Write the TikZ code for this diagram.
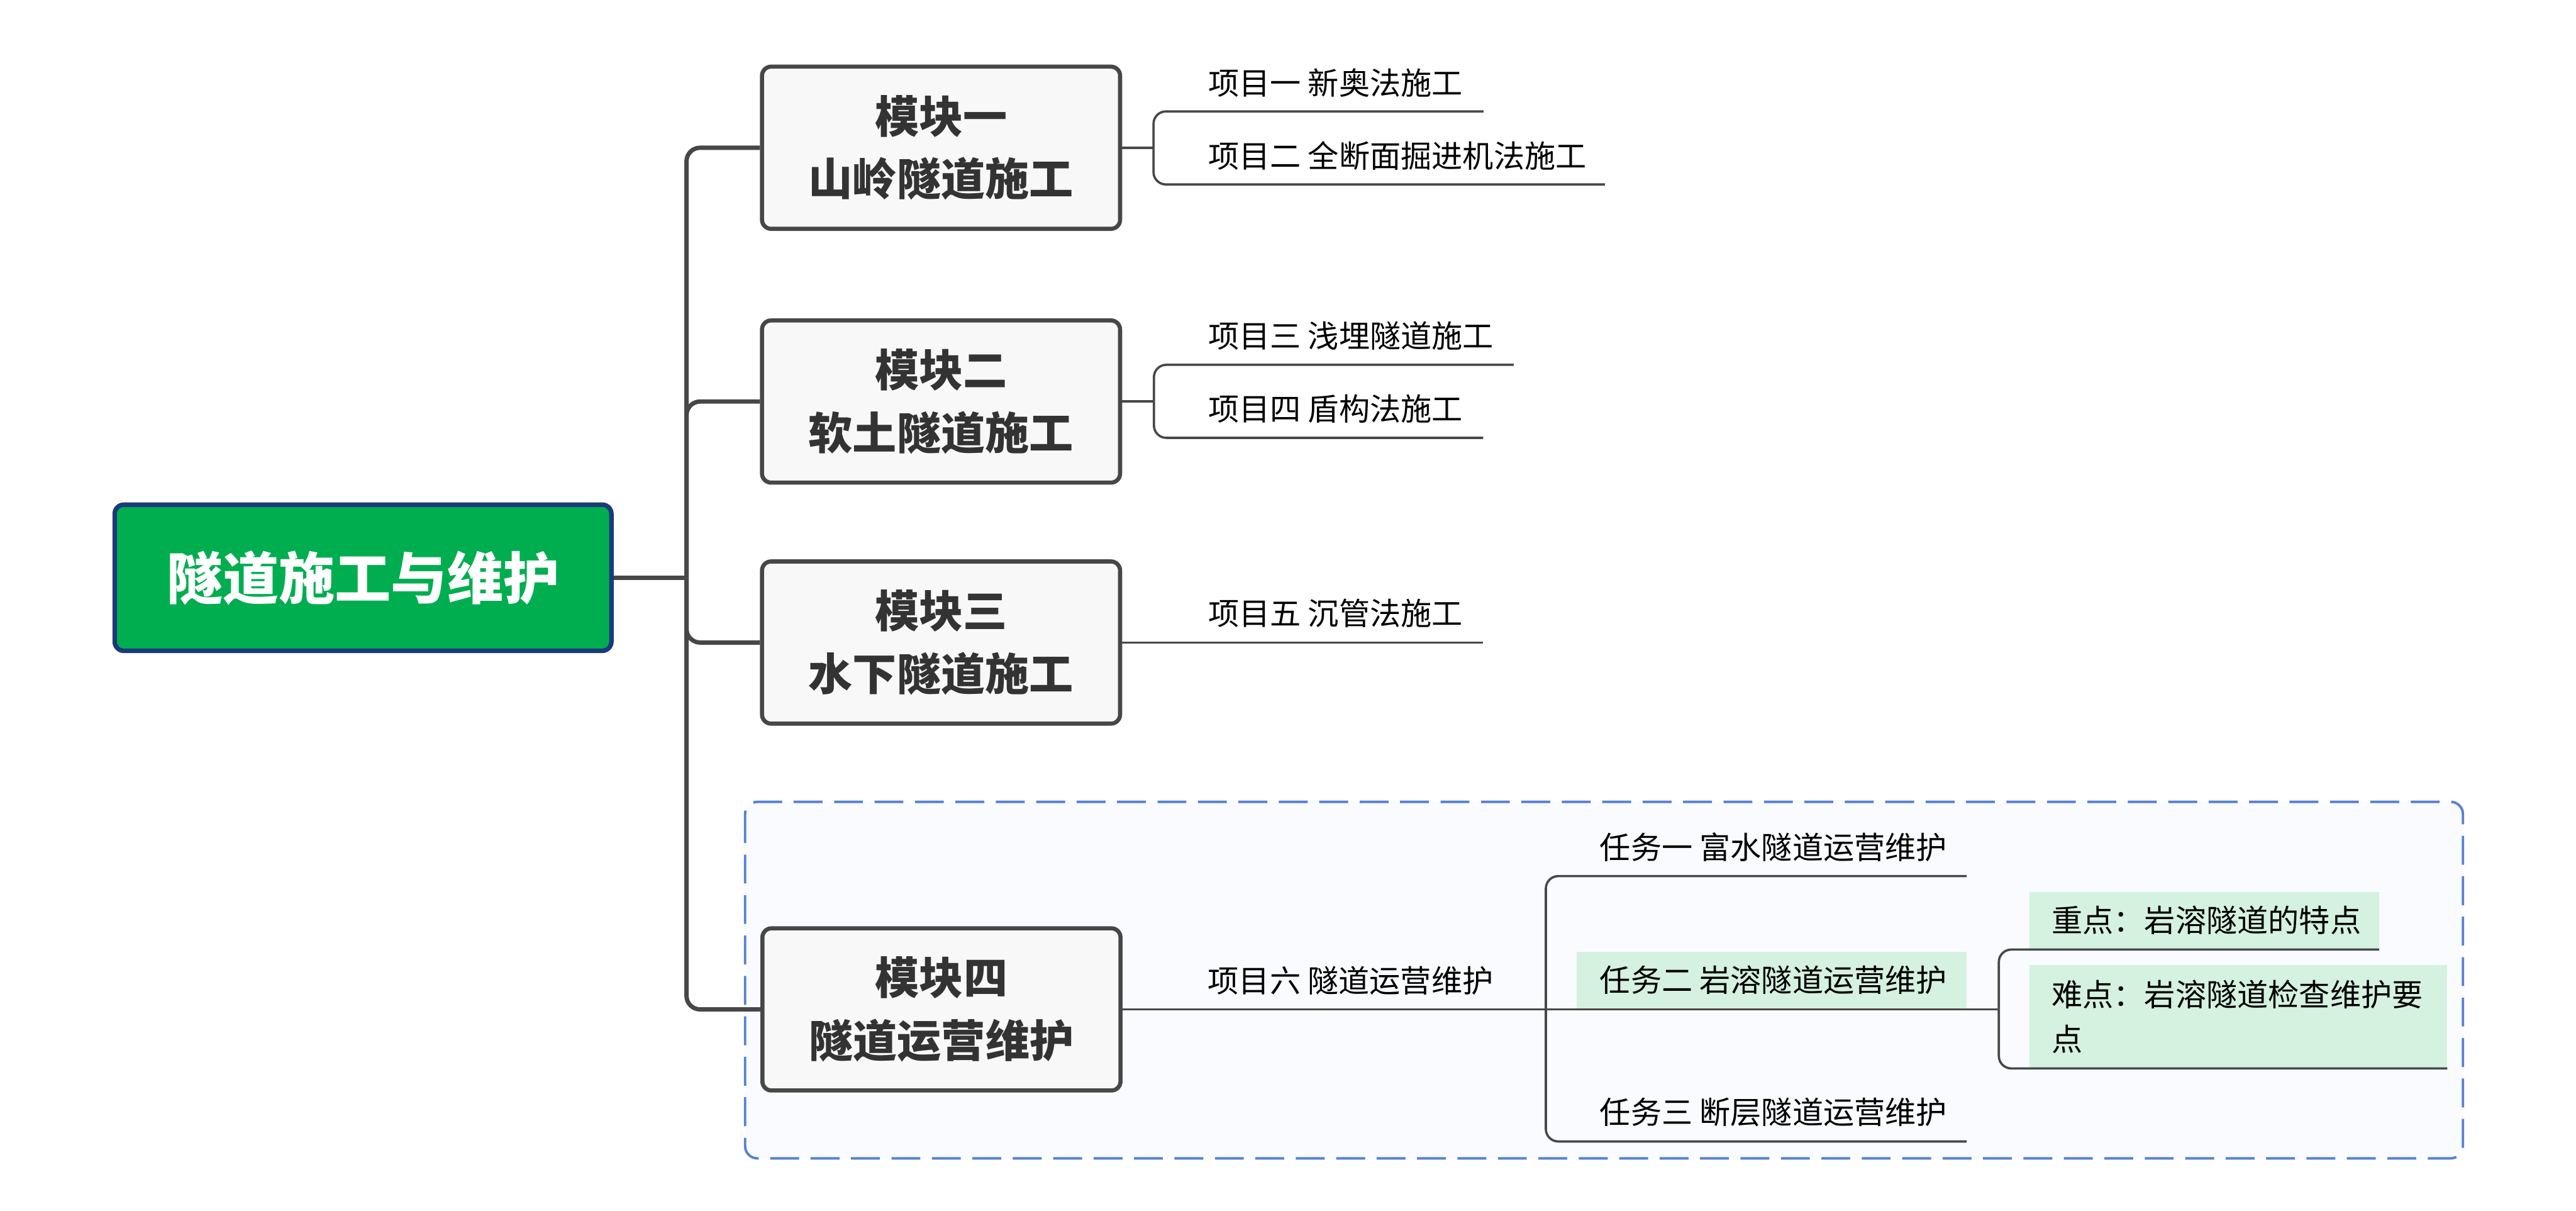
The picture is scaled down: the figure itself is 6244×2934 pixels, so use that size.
\documentclass[tikz,border=0pt]{standalone}
\usepackage{fontspec}
\setmainfont{Noto Sans CJK SC}
\definecolor{linegray}{RGB}{71,71,71}
\definecolor{modfill}{RGB}{248,248,248}
\definecolor{modtext}{RGB}{51,51,51}
\definecolor{rootgreen}{RGB}{0,174,80}
\definecolor{rootborder}{RGB}{27,58,122}
\definecolor{hlgreen}{RGB}{213,241,223}
\definecolor{zonefill}{RGB}{249,251,254}
\definecolor{zoneblue}{RGB}{86,130,212}
\pgfdeclarelayer{zonelayer}
\pgfdeclarelayer{linelayer}
\pgfsetlayers{zonelayer,linelayer,main}
\begin{document}
\begin{tikzpicture}[x=0.1pt,y=-0.1pt,
 rootbox/.style={draw=rootborder, line width=1.1pt, fill=rootgreen, rounded corners=2.2pt,
   minimum width=120.4pt, minimum height=35.4pt, inner sep=0pt, text=white,
   font=\fontsize{13.6}{16}\selectfont\bfseries},
 modbox/.style={draw=linegray, line width=1pt, fill=modfill, rounded corners=2.2pt,
   minimum width=86.8pt, minimum height=39.3pt, inner sep=0pt, align=center, text=modtext,
   font=\fontsize{10.7}{15.2}\selectfont\bfseries},
 item/.style={anchor=base west, inner sep=0pt, text=black, font=\fontsize{7.5}{10.8}\selectfont},
 thickline/.style={draw=linegray, line width=1.05pt, rounded corners=3.3pt},
 thinline/.style={draw=linegray, line width=0.55pt, rounded corners=3pt},
]
\useasboundingbox (0,0) rectangle (6244,2934);

\begin{pgfonlayer}{zonelayer}
\fill[white] (0,0) rectangle (6244,2934);
% zone around module four
\draw[zoneblue, line width=0.6pt, dash pattern=on 7pt off 2.8pt, fill=zonefill, rounded corners=3pt]
  (1806,1943) rectangle (5970,2807);
% highlight backgrounds
\fill[hlgreen] (3822,2306) rectangle (4767,2443);
\fill[hlgreen] (4920,2162) rectangle (5767,2299);
\fill[hlgreen] (4920,2339) rectangle (5932,2588);
\end{pgfonlayer}

% nodes
\node[rootbox] (root) at (880,1400) {隧道施工与维护};
\node[modbox] (m1) at (2281,358) {模块一\\山岭隧道施工};
\node[modbox] (m2) at (2281,973) {模块二\\软土隧道施工};
\node[modbox] (m3) at (2281,1557) {模块三\\水下隧道施工};
\node[modbox] (m4) at (2282,2446) {模块四\\隧道运营维护};

% coordinates
\coordinate (J) at (1664,1400);
\coordinate (F1) at (2796,358);
\coordinate (F2) at (2797,973);
\coordinate (F4) at (3747,2446);
\coordinate (F5) at (4845,2446);
\coordinate (u1) at (3596,270);
\coordinate (u2) at (3890,447);
\coordinate (u3) at (3669,884);
\coordinate (u4) at (3595,1061);
\coordinate (u5) at (3595,1557);
\coordinate (t1) at (4767,2123);
\coordinate (t3) at (4767,2766);
\coordinate (k1) at (5767,2301);
\coordinate (k2) at (5932,2589);

\begin{pgfonlayer}{linelayer}
% trunk
\draw[thickline] (root.east) -- (J);
\draw[thickline] (J) |- (m1.west);
\draw[thickline] (J) |- (m2.west);
\draw[thickline] (J) |- (m3.west);
\draw[thickline] (J) |- (m4.west);
% module branches
\draw[thinline] (m1.east) -- (F1);
\draw[thinline] (F1) |- (u1);
\draw[thinline] (F1) |- (u2);
\draw[thinline] (m2.east) -- (F2);
\draw[thinline] (F2) |- (u3);
\draw[thinline] (F2) |- (u4);
\draw[thinline] (m3.east) -- (u5);
\draw[thinline] (m4.east) -- (F4) -- (F5);
\draw[thinline] (F4) |- (t1);
\draw[thinline] (F4) |- (t3);
\draw[thinline] (F5) |- (k1);
\draw[thinline] (F5) |- (k2);
\end{pgfonlayer}

% item texts
\node[item] (p1) at (2927,229) {项目一 新奥法施工};
\node[item] (p2) at (2927,406) {项目二 全断面掘进机法施工};
\node[item] (p3) at (2927,842) {项目三 浅埋隧道施工};
\node[item] (p4) at (2927,1019) {项目四 盾构法施工};
\node[item] (p5) at (2927,1515) {项目五 沉管法施工};
\node[item] (p6) at (2926,2405) {项目六 隧道运营维护};
\node[item] (tn1) at (3876,2081) {任务一 富水隧道运营维护};
\node[item] (tn2) at (3876,2403) {任务二 岩溶隧道运营维护};
\node[item] (tn3) at (3876,2724) {任务三 断层隧道运营维护};
\node[item] (kn1) at (4971,2259) {重点：岩溶隧道的特点};
\node[item] (kn2) at (4971,2439) {难点：岩溶隧道检查维护要};
\node[item] (kn2b) at (4971,2547) {点};
\end{tikzpicture}
\end{document}
